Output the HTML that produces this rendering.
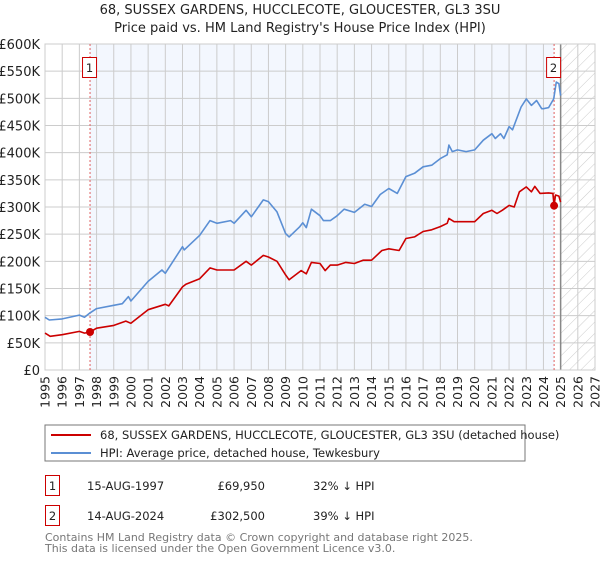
<!DOCTYPE html>
<html><head><meta charset="utf-8"><style>
body{margin:0;background:#fff;font-family:"DejaVu Sans","Liberation Sans",sans-serif;}
svg text{font-family:"DejaVu Sans","Liberation Sans",sans-serif;}
</style></head><body>
<svg id="c" width="600" height="560" xmlns="http://www.w3.org/2000/svg">
<defs><pattern id="hatch" width="8" height="8" patternUnits="userSpaceOnUse" patternTransform="rotate(45)"><line x1="0" y1="0" x2="0" y2="8" stroke="#ccc" stroke-width="1"/></pattern></defs>
<text x="300" y="14" text-anchor="middle" font-size="13" fill="#222">68, SUSSEX GARDENS, HUCCLECOTE, GLOUCESTER, GL3 3SU</text>
<text x="300" y="32" text-anchor="middle" font-size="13" fill="#222">Price paid vs. HM Land Registry's House Price Index (HPI)</text>
<g id="plot"></g>
<rect x="45" y="425" width="480" height="36" fill="#fff" stroke="#777"/>
<line x1="51" y1="435" x2="91" y2="435" stroke="#cc0000" stroke-width="2"/>
<text x="100" y="439" font-size="11.5" fill="#222">68, SUSSEX GARDENS, HUCCLECOTE, GLOUCESTER, GL3 3SU (detached house)</text>
<line x1="51" y1="453" x2="91" y2="453" stroke="#5b8fd4" stroke-width="2"/>
<text x="100" y="457" font-size="11.5" fill="#222">HPI: Average price, detached house, Tewkesbury</text>
<rect x="45.5" y="475.5" width="14" height="20" fill="#fff" stroke="#cc0000"/>
<text x="52.5" y="490" text-anchor="middle" font-size="11.5" fill="#222">1</text>
<text x="87" y="490" font-size="11.5" fill="#222">15-AUG-1997</text>
<text x="265" y="490" text-anchor="end" font-size="11.5" fill="#222">£69,950</text>
<text x="313" y="490" font-size="11.5" fill="#222">32% ↓ HPI</text>
<rect x="45.5" y="505.5" width="14" height="20" fill="#fff" stroke="#cc0000"/>
<text x="52.5" y="520" text-anchor="middle" font-size="11.5" fill="#222">2</text>
<text x="87" y="520" font-size="11.5" fill="#222">14-AUG-2024</text>
<text x="265" y="520" text-anchor="end" font-size="11.5" fill="#222">£302,500</text>
<text x="313" y="520" font-size="11.5" fill="#222">39% ↓ HPI</text>
<text x="45" y="541" font-size="11" fill="#777">Contains HM Land Registry data © Crown copyright and database right 2025.</text>
<text x="45" y="552" font-size="11" fill="#777">This data is licensed under the Open Government Licence v3.0.</text>
</svg>
<script>
const hpiYears=[1995,1995.25,1996,1997,1997.3,1997.62,1998,1999,1999.5,1999.85,2000,2001,2001.8,2002,2003,2003.1,2004,2004.6,2005,2005.8,2006,2006.7,2007,2007.7,2008,2008.5,2009,2009.2,2009.8,2010,2010.2,2010.5,2011,2011.2,2011.6,2012,2012.4,2013,2013.6,2014,2014.5,2015,2015.5,2016,2016.5,2017,2017.5,2018,2018.4,2018.5,2018.7,2019,2019.5,2020,2020.5,2021,2021.2,2021.5,2021.7,2022,2022.2,2022.7,2023,2023.3,2023.6,2023.9,2024,2024.3,2024.6,2024.75,2024.9,2025];
const hpiValues=[97,92,94,101,97,105,113,119,122,135,127,163,184,178,227,221,248,275,270,275,270,294,282,313,310,291,251,245,263,271,262,296,284,275,275,284,296,290,305,301,323,334,325,356,362,374,377,389,396,414,402,405,402,405,423,435,426,435,426,448,442,484,499,487,496,481,481,483,499,530,527,505];
const priceYears=[1995,1995.3,1996,1997,1997.3,1997.62,1998,1999,1999.7,2000,2001,2002,2002.2,2003,2003.2,2004,2004.6,2005,2006,2006.7,2007,2007.7,2008,2008.5,2009,2009.2,2009.9,2010.2,2010.5,2011,2011.3,2011.6,2012,2012.5,2013,2013.5,2014,2014.6,2015,2015.6,2016,2016.5,2017,2017.5,2018,2018.4,2018.5,2018.8,2019,2020,2020.5,2021,2021.3,2021.6,2022,2022.3,2022.6,2023,2023.3,2023.5,2023.8,2024.3,2024.55,2024.62,2024.7,2024.9,2025];
const priceValues=[68,62,65,71,68,69.95,77,82,90,86,111,121,118,153,158,168,188,184,184,200,193,211,208,200,175,166,183,177,198,196,183,193,193,198,196,202,202,220,223,220,242,245,255,258,264,270,279,273,273,273,288,294,288,294,303,300,328,337,328,338,325,326,325,302.5,322,320,309];
const saleYears=[1997.62,2024.62];
const saleValues=[69.95,302.5];
const saleLabels=["1","2"];
const yTicks=[0,50,100,150,200,250,300,350,400,450,500,550,600];
const xTicks=[1995,1996,1997,1998,1999,2000,2001,2002,2003,2004,2005,2006,2007,2008,2009,2010,2011,2012,2013,2014,2015,2016,2017,2018,2019,2020,2021,2022,2023,2024,2025,2026,2027];
const X0=45,X1=595,Y0=370,Y1=44;
const xs=y=>X0+(y-1995)/(2027-1995)*(X1-X0);
const ys=v=>Y0-v/600*(Y0-Y1);
const NS="http://www.w3.org/2000/svg";
const g=document.getElementById('plot');
function el(t,a){const e=document.createElementNS(NS,t);for(const k in a)e.setAttribute(k,a[k]);g.appendChild(e);return e;}
const bg=el('rect',{x:X0,y:Y1,width:X1-X0,height:Y0-Y1,fill:'#fff'});


const band=el('rect',{x:xs(saleYears[0]),y:Y1,width:xs(saleYears[1])-xs(saleYears[0]),height:Y0-Y1,fill:'#f3f7fe'});


const hat=el('rect',{x:xs(2025),y:Y1,width:X1-xs(2025),height:Y0-Y1,fill:'url(#hatch)'});


yTicks.forEach(v=>{
  const l=el('line',{x1:X0,x2:X1,y1:ys(v),y2:ys(v),stroke:'#ccc','stroke-width':1});
  
  
  const t=el('text',{x:40,y:ys(v)+5,'text-anchor':'end','font-size':13,fill:'#222'});
  t.textContent=v===0?'£0':'£'+v+'K';
  
  
});
xTicks.forEach(yr=>{
  const l=el('line',{x1:xs(yr),x2:xs(yr),y1:Y1,y2:Y0,stroke:'#ccc','stroke-width':1});
  
  
  const t=el('text',{x:0,y:0,'text-anchor':'end','font-size':12.5,fill:'#222',transform:`translate(${xs(yr)+4.5},376) rotate(-90)`});
  t.textContent=yr;
  
  
});
const nl=el('line',{x1:xs(2025),x2:xs(2025),y1:Y1,y2:Y0,stroke:'#888','stroke-width':1.5});


const fr=el('rect',{x:X0,y:Y1,width:X1-X0,height:Y0-Y1,fill:'none',stroke:'#ccc'});


saleYears.forEach((yr,i)=>{
  const l=el('line',{x1:xs(yr),x2:xs(yr),y1:Y1,y2:Y0,stroke:'#e06060','stroke-width':1,'stroke-dasharray':'2,2'});
  
  
});
function path(xa,va,color,name){
  const d=xa.map((x,i)=>(i?'L':'M')+xs(x).toFixed(1)+','+ys(va[i]).toFixed(1)).join('');
  const p=el('path',{d:d,fill:'none',stroke:color,'stroke-width':1.6,'stroke-linejoin':'round'});
  
  
}
path(hpiYears,hpiValues,'#5b8fd4','hpi-line');
path(priceYears,priceValues,'#cc0000','property-line');
saleYears.forEach((yr,i)=>{
  const c=el('circle',{cx:xs(yr),cy:ys(saleValues[i]),r:4,fill:'#cc0000'});
  
  
  const b=el('rect',{x:xs(yr)-7.5,y:57.5,width:14,height:20,fill:'#fff',stroke:'#cc0000'});
  
  
  const t=el('text',{x:xs(yr)-0.5,y:72,'text-anchor':'middle','font-size':11.5,fill:'#222'});
  t.textContent=saleLabels[i];
  
  
});
</script>
</body></html>
